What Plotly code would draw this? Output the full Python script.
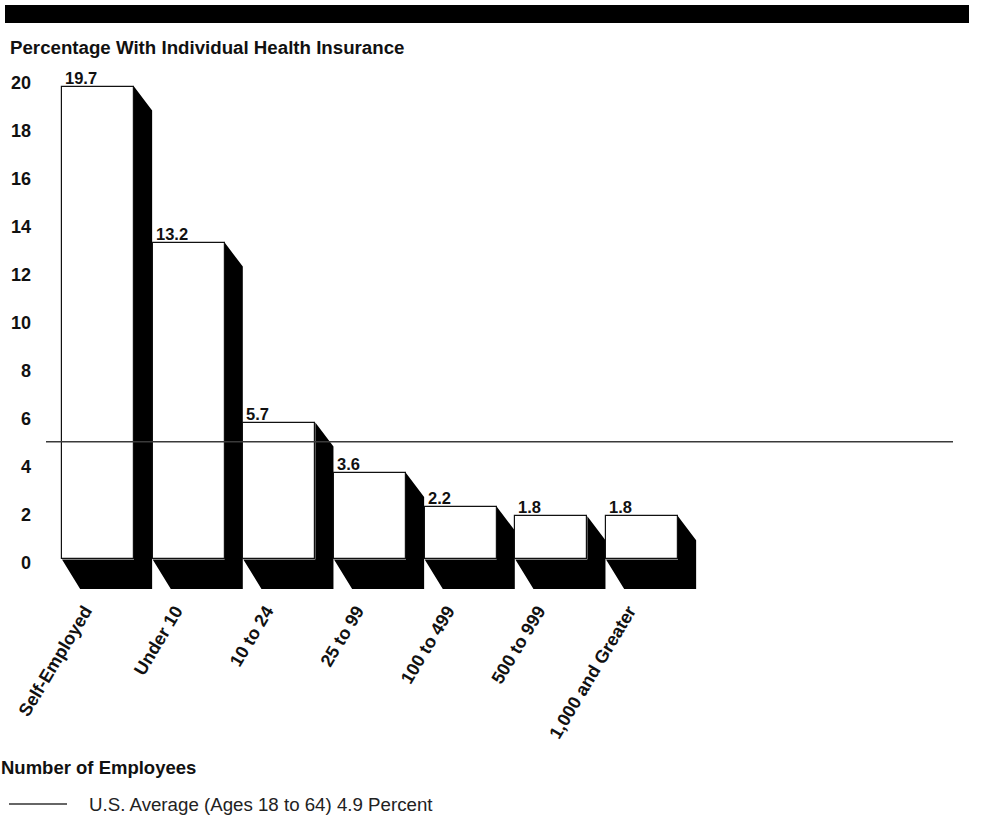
import plotly.graph_objects as go

# Share of workers with individual health insurance, by firm size
categories = ["Self-Employed", "Under 10", "10 to 24", "25 to 99",
              "100 to 499", "500 to 999", "1,000 and Greater"]
percentages = [19.7, 13.2, 5.7, 3.6, 2.2, 1.8, 1.8]
us_average = 4.9
y_ticks = list(range(0, 21, 2))

W, H = 987, 818
L, R, T, B = 46, 953, 65, 593
FONT = "Liberation Sans, Arial, Helvetica, sans-serif"

BAR_W = 0.794      # front face width (category units)
DX = 0.2           # extrusion depth, horizontal (category units)
DY_TOP = 1.0       # extrusion drop at the top of the side face (value units)
DY_BOT = 1.23      # extrusion drop under the base (value units)
X_RANGE = [-0.5735, 9.43]

x_pos = list(range(len(categories)))


def px_x(p):
    return (p - L) / (R - L)


def px_y(p):
    return (B - p) / (B - T)


fig = go.Figure()

# front faces of the bars
fig.add_trace(go.Bar(
    x=x_pos, y=percentages, width=BAR_W,
    marker=dict(color="white", line=dict(color="#111", width=1.2)),
    showlegend=False, hoverinfo="skip",
))

# national average reference line
fig.add_trace(go.Scatter(
    x=X_RANGE, y=[us_average, us_average], mode="lines",
    line=dict(color="#3a3a3a", width=1.4), showlegend=False, hoverinfo="skip",
))

shapes = []
# black extruded sides / bases behind each bar
for xi, v in zip(x_pos, percentages):
    x0, x1 = xi - BAR_W / 2, xi + BAR_W / 2
    path = (f"M{x1},{v} L{x1 + DX},{v - DY_TOP} L{x1 + DX},{-DY_BOT} "
            f"L{x0 + DX},{-DY_BOT} L{x0},0 L{x1},0 Z")
    shapes.append(dict(type="path", path=path, xref="x", yref="y",
                       fillcolor="black", line=dict(width=0), layer="below"))

# header band
shapes.append(dict(type="rect", xref="paper", yref="paper",
                   x0=px_x(5), x1=px_x(969), y0=px_y(23), y1=px_y(5),
                   fillcolor="black", line=dict(width=0)))
# legend sample line
shapes.append(dict(type="line", xref="paper", yref="paper",
                   x0=px_x(9), x1=px_x(67), y0=px_y(804), y1=px_y(804),
                   line=dict(color="#333", width=1.4)))

annotations = []
for xi, v in zip(x_pos, percentages):
    annotations.append(dict(
        x=xi - BAR_W / 2, y=v, xref="x", yref="y", text=f"{v:.1f}",
        showarrow=False, xanchor="left", yanchor="middle", xshift=1, yshift=9,
        font=dict(family=FONT, size=16.5, color="#111", weight="bold"),
    ))

annotations += [
    dict(x=px_x(8), y=px_y(48), xref="paper", yref="paper",
         text="Percentage With Individual Health Insurance", showarrow=False,
         xanchor="left", yanchor="middle",
         font=dict(family=FONT, size=18.7, color="#111", weight="bold")),
    dict(x=px_x(-1), y=px_y(767), xref="paper", yref="paper",
         text="Number of Employees", showarrow=False,
         xanchor="left", yanchor="middle",
         font=dict(family=FONT, size=18.5, color="#111", weight="bold")),
    dict(x=px_x(87), y=px_y(804), xref="paper", yref="paper",
         text=f"U.S. Average (Ages 18 to 64) {us_average} Percent",
         showarrow=False, xanchor="left", yanchor="middle",
         font=dict(family=FONT, size=18.7, color="#222")),
]

fig.update_layout(
    width=W, height=H,
    margin=dict(l=L, r=W - R, t=T, b=H - B, pad=0),
    paper_bgcolor="white", plot_bgcolor="white",
    shapes=shapes, annotations=annotations,
    bargap=0, showlegend=False,
    xaxis=dict(range=X_RANGE, tickvals=x_pos, ticktext=categories,
               tickangle=-59, showgrid=False, zeroline=False, showline=False,
               ticks="", ticklabelstandoff=3, ticklabelshift=-13,
               tickfont=dict(family=FONT, size=18, color="#111", weight="bold")),
    yaxis=dict(range=[-1.4, 20.6], tickvals=y_ticks, showgrid=False,
               zeroline=False, showline=False, ticks="", ticklabelstandoff=14,
               ticklabelshift=3,
               tickfont=dict(family=FONT, size=18, color="#111", weight="bold")),
)

fig.write_html("out.html")
